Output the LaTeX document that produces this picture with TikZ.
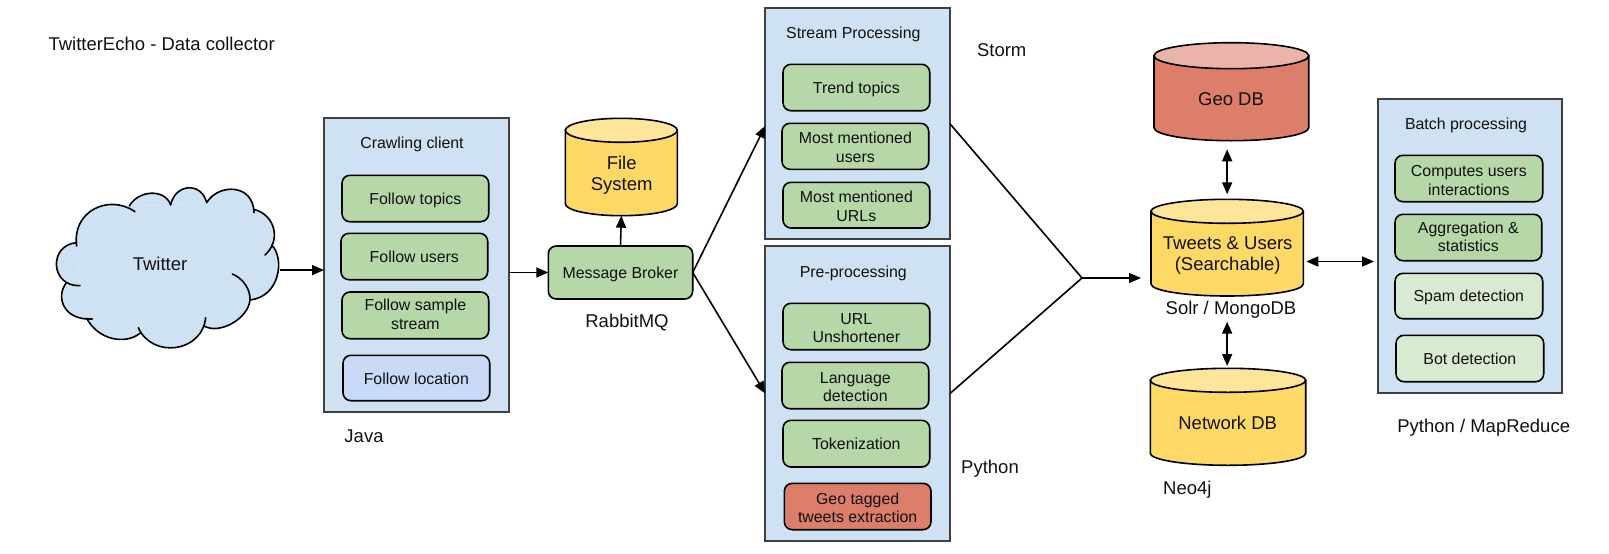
\documentclass[tikz,border=0pt]{standalone}
\usepackage{fontspec}
\setmainfont{Liberation Sans}
\usetikzlibrary{arrows.meta,calc}
\definecolor{cblue}{HTML}{CFE2F3}
\definecolor{cgreen}{HTML}{B6D7A8}
\definecolor{clgreen}{HTML}{D9EAD3}
\definecolor{cloc}{HTML}{C9DAF8}
\definecolor{cred}{HTML}{DD7E6B}
\definecolor{clred}{HTML}{EAB4A8}
\definecolor{cyel}{HTML}{FFD966}
\definecolor{clyel}{HTML}{FFE599}
\definecolor{ctxt}{HTML}{111111}
\newcommand\smstrut{\rule[-2.2pt]{0pt}{16.6pt}}
\newcommand\bgstrut{\rule[-2.4pt]{0pt}{18pt}}
\newcommand\tl{\rule{0pt}{15.6pt}}
\tikzset{
  smalltxt/.style={font=\fontsize{15.9}{18.3}\selectfont,text=ctxt,align=center,inner sep=0pt,
    execute at begin node=\smstrut,execute at end node=\smstrut},
  bigtxt/.style={font=\fontsize{18.5}{21.4}\selectfont,text=ctxt,align=center,inner sep=0pt,
    execute at begin node=\bgstrut,execute at end node=\bgstrut},
  outerbox/.style={draw=black!75,line width=1.7pt,fill=cblue,inner sep=0pt,outer sep=0pt},
  innerbox/.style={smalltxt,draw=black,line width=1.6pt,rounded corners=8pt,outer sep=0pt},
  arr/.style={line width=1.6pt,-{Triangle[length=12pt,width=10pt]}},
  biarr/.style={line width=1.6pt,{Triangle[length=12pt,width=10pt]}-{Triangle[length=12pt,width=10pt]}},
  plainline/.style={line width=1.6pt,line cap=round},
  cyledge/.style={draw=black,line width=1.6pt},
}
\newcommand\obox[5]{% name x1 y1 x2 y2
  \pgfmathsetmacro\mycx{(#2+#4)/2}\pgfmathsetmacro\mycy{(#3+#5)/2}
  \pgfmathsetmacro\myw{#4-#2}\pgfmathsetmacro\myh{#5-#3}
  \node[outerbox,minimum width=\myw pt,minimum height=\myh pt] (#1) at (\mycx,\mycy) {};}
\newcommand\ibox[7]{% name x1 y1 x2 y2 fill text
  \pgfmathsetmacro\mycx{(#2+#4)/2}\pgfmathsetmacro\mycy{(#3+#5)/2}
  \pgfmathsetmacro\myw{#4-#2}\pgfmathsetmacro\myh{#5-#3}
  \node[innerbox,fill=#6,minimum width=\myw pt,minimum height=\myh pt] (#1) at (\mycx,\mycy) {#7};}
\newcommand\cyl[7]{% name x1 x2 ytop yellipsebottom ybottom colour
  \pgfmathsetmacro\mycx{(#2+#3)/2}\pgfmathsetmacro\myrx{(#3-#2)/2}
  \pgfmathsetmacro\myry{(#5-#4)/2}
  \pgfmathsetmacro\myt{#4+\myry}\pgfmathsetmacro\myb{#6-\myry}
  \pgfmathsetmacro\mycy{(#4+#6)/2}\pgfmathsetmacro\myw{#3-#2}\pgfmathsetmacro\myh{#6-#4}
  \path[cyledge,fill=#7] (#2,\myt) -- (#2,\myb) arc[start angle=180,end angle=360,x radius=\myrx pt,y radius=\myry pt] -- (#3,\myt) -- cycle;
  \node[inner sep=0pt,outer sep=0pt,minimum width=\myw pt,minimum height=\myh pt] (#1) at (\mycx,\mycy) {};}
\newcommand\cyltop[5]{% x1 x2 ytop yellipsebottom colour
  \pgfmathsetmacro\mycx{(#1+#2)/2}\pgfmathsetmacro\myrx{(#2-#1)/2}
  \pgfmathsetmacro\myry{(#4-#3)/2}\pgfmathsetmacro\myt{#3+\myry}
  \path[cyledge,fill=#5] (\mycx,\myt) ellipse[x radius=\myrx pt,y radius=\myry pt];}
\def\lobA{(140,288) .. controls (125,185) and (235,130) .. (315,185)}
\def\lobB{(298,168) .. controls (325,120) and (405,115) .. (422,165)}
\def\lobC{(422,165) .. controls (435,100) and (515,95) .. (530,158)}
\def\lobD{(530,158) .. controls (565,100) and (670,100) .. (672,188)}
\def\lobE{(672,178) .. controls (735,195) and (755,270) .. (705,315)}
\def\lobF{(725,285) .. controls (765,325) and (750,440) .. (660,450)}
\def\lobG{(607,372) .. controls (640,385) and (662,420) .. (660,450) .. controls (655,505) and (570,555) .. (522,528)}
\def\lobH{(527,503) .. controls (515,610) and (365,625) .. (325,533)}
\def\lobI{(330,550) .. controls (285,585) and (205,570) .. (170,505)}
\def\lobJ{(187,507) .. controls (100,512) and (75,440) .. (110,397)}
\def\lobK{(150,407) .. controls (60,410) and (55,285) .. (140,278)}
\begin{document}
\begin{tikzpicture}[x=1pt,y=-1pt]
\useasboundingbox (0,0) rectangle (1609,554);
% cloud
\begin{scope}[xshift=30pt,yshift=-150pt,x=0.33333pt,y=-0.33333pt]
  \fill[cblue] \lobA \lobB \lobC \lobD \lobE \lobF \lobG \lobH \lobI \lobJ \lobK;
  \fill[cblue] (140,288) -- (298,168) -- (422,165) -- (530,158) -- (672,178) -- (725,285) -- (660,450) -- (522,528) -- (420,560) -- (330,550) -- (170,505) -- (187,507) -- (110,397) -- (150,407) -- (140,278) -- cycle;
  \fill[cblue] (200,300) rectangle (620,500);
  \draw[line width=1.6pt,line cap=round] \lobA \lobB \lobC \lobD \lobE \lobF \lobG \lobH \lobI \lobJ \lobK;
\end{scope}
\node[bigtxt,minimum width=238.6pt] (twitter) at (160,264.1) {Twitter};
% title
\node[bigtxt] (title) at (161.6,43.4) {TwitterEcho - Data collector};
% crawling client
\obox{crawl}{324}{118.3}{508.7}{412.3}
\node[smalltxt] (crawltitle) at (412,143.3) {Crawling client};
\ibox{ftopics}{342}{175.3}{488.7}{221.7}{cgreen}{Follow topics}
\ibox{fusers}{341}{233.3}{487.7}{279.7}{cgreen}{Follow users}
\ibox{fsample}{342}{292}{488.7}{338.7}{cgreen}{Follow sample\\stream}
\ibox{floc}{343}{355.3}{489.7}{400.7}{cloc}{Follow location}
\node[bigtxt] (java) at (364,436.1) {Java};
% broker
\ibox{broker}{548.3}{246}{692.7}{299}{cgreen}{Message Broker}
\node[bigtxt] (rabbit) at (627,321.1) {RabbitMQ};
% file system
\cyl{fs}{565.3}{677.3}{118.3}{142.3}{215.7}{cyel}
\cyltop{565.3}{677.3}{118.3}{142.3}{clyel}
\node[bigtxt] (fstext) at (621.7,175.4) {File\\System};
% stream processing
\obox{stream}{765.3}{8.3}{950}{239.3}
\node[smalltxt] (streamtitle) at (853.3,33) {Stream Processing};
\ibox{trend}{783}{64.3}{929.7}{110.7}{cgreen}{Trend topics}
\ibox{mmusers}{782}{123.3}{928.7}{169.3}{cgreen}{\tl Most mentioned\\users}
\ibox{mmurls}{783}{182.3}{929.7}{228}{cgreen}{\tl Most mentioned\\URLs}
\node[bigtxt] (storm) at (1001.7,49.4) {Storm};
% pre-processing
\obox{pre}{765.3}{246.3}{950}{540.7}
\node[smalltxt] (pretitle) at (853.3,271.7) {Pre-processing};
\ibox{url}{783}{303.3}{929.7}{349.7}{cgreen}{\tl URL\\Unshortener}
\ibox{lang}{782}{362.3}{928.7}{408.7}{cgreen}{\tl Language\\detection}
\ibox{token}{783}{420.3}{929.7}{467}{cgreen}{Tokenization}
\ibox{geotag}{784.3}{483.3}{931}{529.7}{cred}{\tl Geo tagged\\tweets extraction}
\node[bigtxt] (python) at (990,467.7) {Python};
% databases
\cyl{geo}{1154}{1308.7}{42.7}{68.7}{140.7}{cred}
\cyltop{1154}{1308.7}{42.7}{68.7}{clred}
\node[bigtxt] (geotext) at (1231,98.4) {Geo DB};
\cyl{tweets}{1151}{1303.3}{199.3}{223.3}{296}{cyel}
\cyltop{1151}{1303.3}{199.3}{223.3}{clyel}
\node[bigtxt] (tweetstext) at (1227.7,255.4) {Tweets \& Users\\(Searchable)};
\node[bigtxt] (solr) at (1231,308.4) {Solr / MongoDB};
\cyl{network}{1150.3}{1305.7}{368.3}{392.3}{465.3}{cyel}
\cyltop{1150.3}{1305.7}{368.3}{392.3}{clyel}
\node[bigtxt] (nettext) at (1227.7,422.7) {Network DB};
\node[bigtxt] (neo) at (1187.3,488.7) {Neo4j};
% batch
\obox{batch}{1378}{99.3}{1561.7}{393.3}
\node[smalltxt] (batchtitle) at (1466,124) {Batch processing};
\ibox{computes}{1395}{155.3}{1542.7}{201.7}{cgreen}{\rule{0pt}{17pt}Computes users\\interactions}
\ibox{aggr}{1395}{214.3}{1541.7}{260.7}{cgreen}{Aggregation \&\\statistics}
\ibox{spam}{1395}{273.3}{1542.7}{318.7}{clgreen}{Spam detection}
\ibox{bot}{1396}{335.3}{1543.7}{381.7}{clgreen}{Bot detection}
\node[bigtxt] (pymr) at (1483.7,426.7) {Python / MapReduce};
% connectors
\coordinate (merge) at (1082,278);
\coordinate (tbrow) at (1340,261.5);
\draw[arr] ([yshift=-6pt]twitter.east) -- ([yshift=-6pt]twitter.east -| crawl.west);
\draw[arr] (crawl.east |- broker.west) -- (broker.west);
\draw[arr] (broker.north) -- (fs.south);
\draw[arr] (broker.east) -- ([yshift=-2pt]stream.west);
\draw[arr] (broker.east) -- (pre.west);
\draw[plainline] (stream.east) -- (merge);
\draw[plainline] (pre.east) -- (merge);
\draw[arr] (merge) -- ([xshift=-10pt]tweets.west |- merge);
\draw[biarr] ([yshift=-8.6pt]geo.south -| tweets.north) -- ([yshift=5pt]tweets.north);
\draw[biarr] ([yshift=-25.7pt]tweets.south) -- ([yshift=2.3pt]network.north -| tweets.south);
\draw[biarr] ([xshift=3pt]tweets.east |- tbrow) -- ([xshift=-4pt]batch.west |- tbrow);
\end{tikzpicture}
\end{document}
